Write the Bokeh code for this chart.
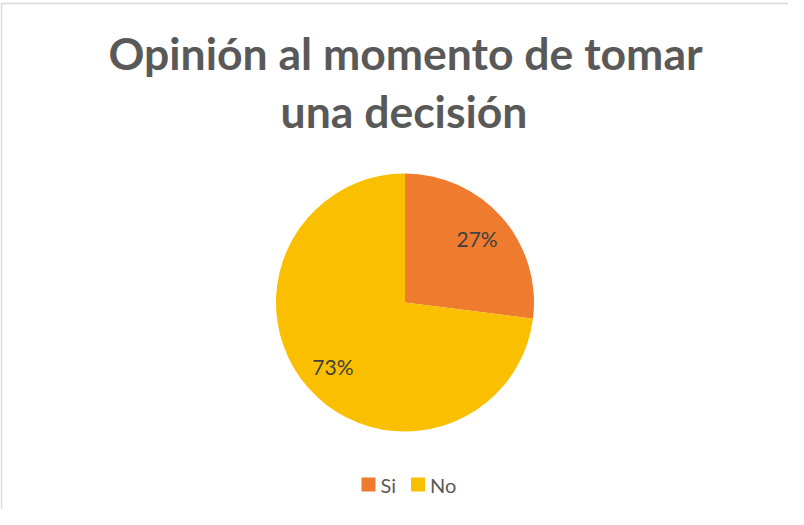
import math
from bokeh.plotting import figure
from bokeh.models import Range1d, ColumnDataSource
from bokeh.core.properties import value
from bokeh.embed import file_html
from bokeh.resources import INLINE

# ---- data ----
categories = ["Si", "No"]
percentages = [27, 73]
slice_colors = ["#EF7B2E", "#FAC000"]
title_lines = ["Opinión al momento de tomar", "una decisión"]

W, H = 788, 509
p = figure(width=W, height=H, output_backend="svg", toolbar_location=None,
           x_range=Range1d(0, W), y_range=Range1d(-H, 0),
           min_border=0, min_border_left=0, min_border_right=0,
           min_border_top=0, min_border_bottom=0)
p.axis.visible = False
p.grid.visible = False
p.outline_line_color = None
p.background_fill_color = "white"
p.border_fill_color = "white"

# chart border (top & left visible)
p.quad(left=[1], right=[W + 20], top=[-3], bottom=[-H - 20],
       fill_color=None, line_color="#D9D9D9", line_width=1.5)

# title
font = value("Lato")
p.text(x=[405, 403.5], y=[-52, -110], text=title_lines,
       text_font=font, text_font_style="bold", text_font_size="44.5px",
       text_color="#595959", text_align="center", text_baseline="middle")

# pie
cx, cy, R = 404.5, -302, 129
total = sum(percentages)
starts, ends, mids = [], [], []
a = math.pi / 2
for v in percentages:
    span = 2 * math.pi * v / total
    starts.append(a - span)
    ends.append(a)
    mids.append(a - span / 2)
    a -= span
src = ColumnDataSource(dict(start=starts, end=ends, color=slice_colors))
p.wedge(x=cx, y=cy, radius=R, start_angle="start", end_angle="end",
        fill_color="color", line_color="white", line_width=0, source=src)

# percentage labels
lr = 0.745 * R
lx = [cx + lr * math.cos(m) for m in mids]
ly = [cy + lr * math.sin(m) for m in mids]
labels = [f"{v}%" for v in percentages]
p.text(x=lx, y=ly, text=labels, text_font=font, text_font_size="21px",
       text_color="#404040", text_align="center", text_baseline="middle")

# legend
sq_x = [368, 417.5]
p.rect(x=sq_x, y=[-484] * 2, width=14, height=14,
       fill_color=slice_colors, line_color=None)
p.text(x=[x + 12 for x in sq_x], y=[-484] * 2, text=categories,
       text_font=font, text_font_size="20px", text_color="#595959",
       text_align="left", text_baseline="middle")

open("out.html", "w").write(file_html(p, INLINE))
